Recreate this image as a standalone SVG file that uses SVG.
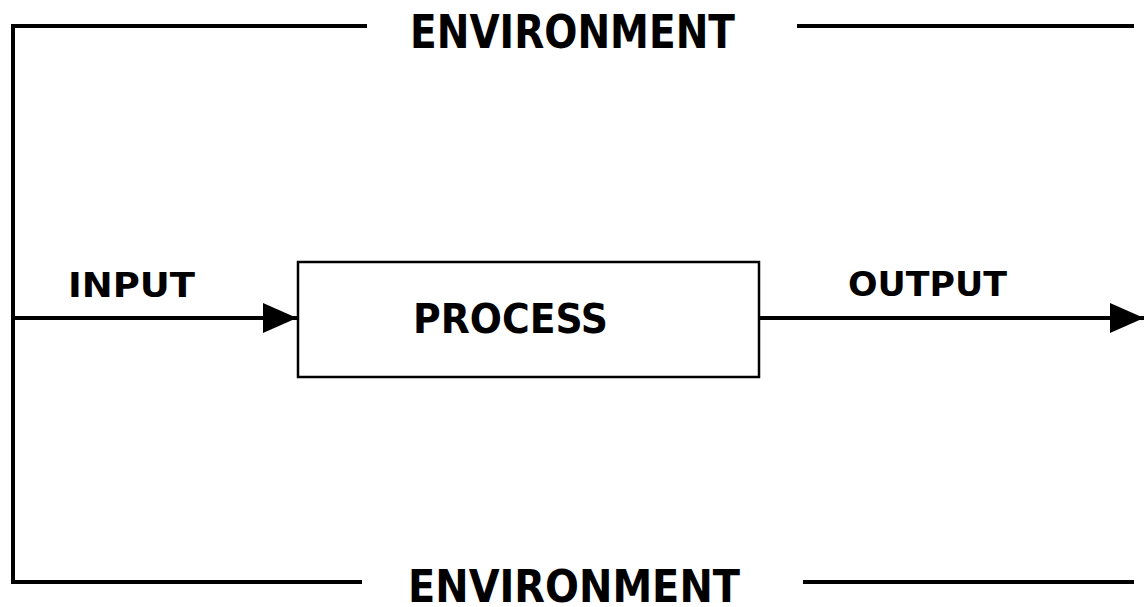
<svg xmlns="http://www.w3.org/2000/svg" width="1146" height="607" viewBox="0 0 1146 607">
<style>
.t{font-family:"DejaVu Sans Condensed","DejaVu Sans","Liberation Sans",sans-serif;font-weight:bold;fill:#000;font-stretch:condensed}
.ln{stroke:#000;stroke-width:4;fill:none}
.box{stroke:#000;stroke-width:2.5;fill:#fff}
</style>
<defs>
<marker id="ah" markerUnits="userSpaceOnUse" markerWidth="36" markerHeight="32" refX="34" refY="15" orient="auto">
<path d="M0,0 L34,15 L0,30 Z" fill="#000"/>
</marker>
</defs>
<rect width="1146" height="607" fill="#fff"/>
<g id="environment-frame">
<path class="ln" d="M367,26 L13,26 L13,582 L362,582"/>
<path class="ln" d="M797,26 L1134,26"/>
<path class="ln" d="M803,582 L1134,582"/>
<text class="t" x="410" y="48" font-size="46" textLength="325" lengthAdjust="spacingAndGlyphs">ENVIRONMENT</text>
<text class="t" x="408" y="602" font-size="44" textLength="332" lengthAdjust="spacingAndGlyphs">ENVIRONMENT</text>
</g>
<g id="process">
<rect class="box" x="298" y="262" width="461" height="115"/>
<text class="t" x="413" y="333" font-size="41" textLength="195" lengthAdjust="spacingAndGlyphs">PROCESS</text>
</g>
<g id="connectors">
<line class="ln" x1="13" y1="318" x2="297" y2="318" marker-end="url(#ah)"/>
<line class="ln" x1="759" y1="318" x2="1144" y2="318" marker-end="url(#ah)"/>
</g>
<g id="labels">
<text class="t" x="68" y="297" font-size="34" textLength="127" lengthAdjust="spacingAndGlyphs">INPUT</text>
<text class="t" x="848" y="296" font-size="34" textLength="159" lengthAdjust="spacingAndGlyphs">OUTPUT</text>
</g>
</svg>
